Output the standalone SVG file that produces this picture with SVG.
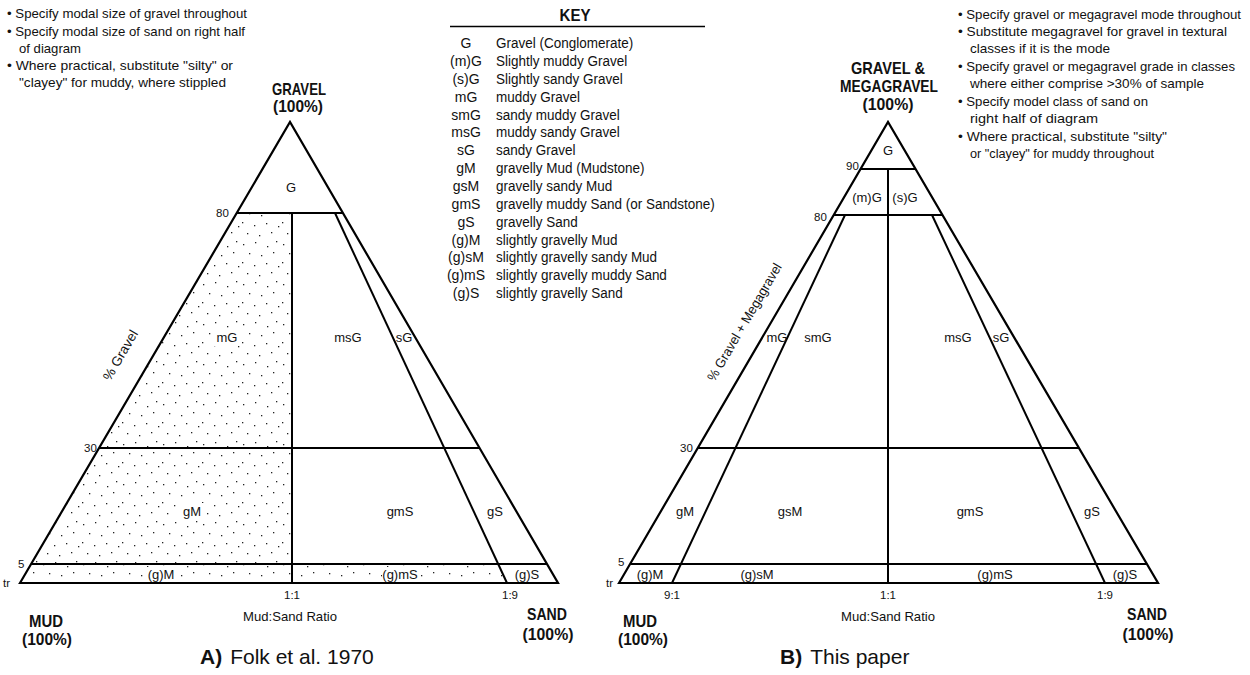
<svg xmlns="http://www.w3.org/2000/svg" width="1250" height="675" viewBox="0 0 1250 675">
<style>
text{font-family:"Liberation Sans Narrow","Liberation Sans",Arial,sans-serif;fill:#111}
.note{font-size:13.5px}
.key{font-size:14.5px}
.ab{font-size:14px;text-anchor:middle}
.lab{font-size:13px;text-anchor:middle}
.tick{font-size:11.5px}
.tm{font-size:11.5px;text-anchor:middle}
.bold{font-weight:bold;font-size:17px;text-anchor:middle}
.cap{font-family:"Liberation Sans",Arial,sans-serif;font-size:21px}
.edge{fill:none;stroke:#000;stroke-width:2.2;stroke-linejoin:miter}
.ln{fill:none;stroke:#000;stroke-width:2}
.bg{fill:#fff}
</style>
<defs>
<pattern id="dots" width="40" height="40" patternUnits="userSpaceOnUse">
<g fill="#222">
<rect x="3" y="4" width="1.3" height="1.3"/>
<rect x="15" y="2" width="1.3" height="1.3"/>
<rect x="27" y="6" width="1.3" height="1.3"/>
<rect x="36" y="1" width="1.3" height="1.3"/>
<rect x="9" y="13" width="1.3" height="1.3"/>
<rect x="21" y="15" width="1.3" height="1.3"/>
<rect x="33" y="12" width="1.3" height="1.3"/>
<rect x="2" y="22" width="1.3" height="1.3"/>
<rect x="14" y="25" width="1.3" height="1.3"/>
<rect x="26" y="23" width="1.3" height="1.3"/>
<rect x="38" y="26" width="1.3" height="1.3"/>
<rect x="7" y="33" width="1.3" height="1.3"/>
<rect x="19" y="35" width="1.3" height="1.3"/>
<rect x="31" y="32" width="1.3" height="1.3"/>
</g>
</pattern>
</defs>
<rect width="1250" height="675" fill="#fff"/>

<!-- Notes A -->
<g id="notes-a">
<text class="note" x="7" y="18" textLength="240" lengthAdjust="spacingAndGlyphs">• Specify modal size of gravel throughout</text>
<text class="note" x="7" y="36" textLength="238" lengthAdjust="spacingAndGlyphs">• Specify modal size of sand on right half</text>
<text class="note" x="19" y="53" textLength="62" lengthAdjust="spacingAndGlyphs">of diagram</text>
<text class="note" x="7" y="70" textLength="226" lengthAdjust="spacingAndGlyphs">• Where practical, substitute "silty" or</text>
<text class="note" x="19" y="87" textLength="207" lengthAdjust="spacingAndGlyphs">"clayey" for muddy, where stippled</text>
</g>

<!-- Key -->
<g id="key">
<text x="575" y="21" style="font-weight:bold;font-size:17px;text-anchor:middle" textLength="31" lengthAdjust="spacingAndGlyphs">KEY</text>
<line x1="450" y1="26.5" x2="705" y2="26.5" stroke="#000" stroke-width="1.5"/>
<g id="key-abbrev">
<text x="466" y="48" class="ab">G</text>
<text x="466" y="66" class="ab">(m)G</text>
<text x="466" y="84" class="ab">(s)G</text>
<text x="466" y="102" class="ab">mG</text>
<text x="466" y="120" class="ab">smG</text>
<text x="466" y="137" class="ab">msG</text>
<text x="466" y="155" class="ab">sG</text>
<text x="466" y="173" class="ab">gM</text>
<text x="466" y="191" class="ab">gsM</text>
<text x="466" y="209" class="ab">gmS</text>
<text x="466" y="227" class="ab">gS</text>
<text x="466" y="245" class="ab">(g)M</text>
<text x="466" y="262" class="ab">(g)sM</text>
<text x="466" y="280" class="ab">(g)mS</text>
<text x="466" y="298" class="ab">(g)S</text>
</g>
<g id="key-desc" transform="translate(496 0) scale(0.93 1)">
<text x="0" y="48" class="key">Gravel (Conglomerate)</text>
<text x="0" y="66" class="key">Slightly muddy Gravel</text>
<text x="0" y="84" class="key">Slightly sandy Gravel</text>
<text x="0" y="102" class="key">muddy Gravel</text>
<text x="0" y="120" class="key">sandy muddy Gravel</text>
<text x="0" y="137" class="key">muddy sandy Gravel</text>
<text x="0" y="155" class="key">sandy Gravel</text>
<text x="0" y="173" class="key">gravelly Mud (Mudstone)</text>
<text x="0" y="191" class="key">gravelly sandy Mud</text>
<text x="0" y="209" class="key">gravelly muddy Sand (or Sandstone)</text>
<text x="0" y="227" class="key">gravelly Sand</text>
<text x="0" y="245" class="key">slightly gravelly Mud</text>
<text x="0" y="262" class="key">slightly gravelly sandy Mud</text>
<text x="0" y="280" class="key">slightly gravelly muddy Sand</text>
<text x="0" y="298" class="key">slightly gravelly Sand</text>
</g>
</g>

<!-- Triangle A -->
<g id="triangle-a">
<polygon points="236.7,213 292,213 292,564 498.2,564 507,583 20,583" fill="url(#dots)"/>
<rect class="bg" x="213" y="329" width="29" height="17"/>
<rect class="bg" x="178" y="503" width="28" height="17"/>
<rect class="bg" x="146" y="567" width="31" height="15"/>
<rect class="bg" x="382" y="567" width="37" height="15"/>
<polygon class="edge" points="20,583 290,122 558,583"/>
<g id="connectors-a">
<line class="ln" x1="236.7" y1="213" x2="342.9" y2="213"/>
<line class="ln" x1="99" y1="448" x2="479.5" y2="448"/>
<line class="ln" x1="31.1" y1="564" x2="547" y2="564"/>
<line class="ln" x1="292" y1="213" x2="292" y2="583"/>
<line class="ln" x1="335" y1="213" x2="507" y2="583"/>
</g>
<text class="lab" x="291" y="192">G</text>
<text class="lab" x="227" y="342">mG</text>
<text class="lab" x="348" y="342">msG</text>
<text class="lab" x="404" y="342">sG</text>
<text class="lab" x="192" y="516">gM</text>
<text class="lab" x="400" y="516">gmS</text>
<text class="lab" x="495" y="516">gS</text>
<text class="lab" x="161" y="579">(g)M</text>
<text class="lab" x="400" y="579">(g)mS</text>
<text class="lab" x="527" y="579">(g)S</text>
<text class="tick" x="216" y="217">80</text>
<text class="tick" x="84" y="452">30</text>
<text class="tick" x="18" y="568">5</text>
<text class="tick" x="3" y="587">tr</text>
<text class="tm" x="292" y="599">1:1</text>
<text class="tm" x="510" y="599">1:9</text>
<text x="290" y="621" style="font-size:13px;text-anchor:middle" textLength="94" lengthAdjust="spacingAndGlyphs">Mud:Sand Ratio</text>
<text x="120" y="360" transform="rotate(-59.6 120 355)" style="font-size:13.5px;text-anchor:middle" textLength="56" lengthAdjust="spacingAndGlyphs">% Gravel</text>
<text class="bold" x="299" y="95" textLength="54" lengthAdjust="spacingAndGlyphs">GRAVEL</text>
<text class="bold" x="298" y="112" textLength="50" lengthAdjust="spacingAndGlyphs">(100%)</text>
<text class="bold" x="46" y="627" textLength="34" lengthAdjust="spacingAndGlyphs">MUD</text>
<text class="bold" x="47" y="645" textLength="50" lengthAdjust="spacingAndGlyphs">(100%)</text>
<text class="bold" x="547" y="620" textLength="40" lengthAdjust="spacingAndGlyphs">SAND</text>
<text class="bold" x="548" y="640" textLength="51" lengthAdjust="spacingAndGlyphs">(100%)</text>
<text class="cap" x="200" y="664"><tspan font-weight="bold">A)</tspan><tspan dx="8">Folk et al. 1970</tspan></text>
</g>

<!-- Notes B -->
<g id="notes-b">
<text class="note" x="958" y="19" textLength="283" lengthAdjust="spacingAndGlyphs">• Specify gravel or megagravel mode throughout</text>
<text class="note" x="958" y="36" textLength="269" lengthAdjust="spacingAndGlyphs">• Substitute megagravel for gravel in textural</text>
<text class="note" x="970" y="53" textLength="140" lengthAdjust="spacingAndGlyphs">classes if it is the mode</text>
<text class="note" x="958" y="71" textLength="277" lengthAdjust="spacingAndGlyphs">• Specify gravel or megagravel grade in classes</text>
<text class="note" x="970" y="88" textLength="234" lengthAdjust="spacingAndGlyphs">where either comprise &gt;30% of sample</text>
<text class="note" x="958" y="106" textLength="190" lengthAdjust="spacingAndGlyphs">• Specify model class of sand on</text>
<text class="note" x="970" y="123" textLength="128" lengthAdjust="spacingAndGlyphs">right half of diagram</text>
<text class="note" x="958" y="141" textLength="209" lengthAdjust="spacingAndGlyphs">• Where practical, substitute "silty"</text>
<text class="note" x="970" y="158" textLength="184" lengthAdjust="spacingAndGlyphs">or "clayey" for muddy throughout</text>
</g>

<!-- Triangle B -->
<g id="triangle-b">
<polygon class="edge" points="619,583 888,122 1158,583"/>
<g id="connectors-b">
<line class="ln" x1="860.6" y1="169" x2="916" y2="169"/>
<line class="ln" x1="888" y1="169" x2="888" y2="215"/>
<line class="ln" x1="833.7" y1="215" x2="943" y2="215"/>
<line class="ln" x1="888" y1="215" x2="888" y2="583"/>
<line class="ln" x1="697.8" y1="448" x2="1079" y2="448"/>
<line class="ln" x1="630.7" y1="564" x2="1146.3" y2="564"/>
<line class="ln" x1="845" y1="215" x2="672" y2="583"/>
<line class="ln" x1="932" y1="215" x2="1105" y2="583"/>
</g>
<text class="lab" x="888" y="155">G</text>
<text class="lab" x="867" y="202">(m)G</text>
<text class="lab" x="905" y="202">(s)G</text>
<text class="lab" x="777" y="342">mG</text>
<text class="lab" x="818" y="342">smG</text>
<text class="lab" x="958" y="342">msG</text>
<text class="lab" x="1001" y="342">sG</text>
<text class="lab" x="685" y="516">gM</text>
<text class="lab" x="790" y="516">gsM</text>
<text class="lab" x="970" y="516">gmS</text>
<text class="lab" x="1092" y="516">gS</text>
<text class="lab" x="650" y="579">(g)M</text>
<text class="lab" x="757" y="579">(g)sM</text>
<text class="lab" x="995" y="579">(g)mS</text>
<text class="lab" x="1125" y="579">(g)S</text>
<text class="tick" x="846" y="170">90</text>
<text class="tick" x="814" y="221">80</text>
<text class="tick" x="680" y="452">30</text>
<text class="tick" x="618" y="566">5</text>
<text class="tick" x="606" y="587">tr</text>
<text class="tm" x="672" y="599">9:1</text>
<text class="tm" x="888" y="599">1:1</text>
<text class="tm" x="1105" y="599">1:9</text>
<text x="888" y="621" style="font-size:13px;text-anchor:middle" textLength="94" lengthAdjust="spacingAndGlyphs">Mud:Sand Ratio</text>
<text x="744" y="327" transform="rotate(-59.6 744 322)" style="font-size:13.5px;text-anchor:middle" textLength="134" lengthAdjust="spacingAndGlyphs">% Gravel + Megagravel</text>
<text class="bold" x="888" y="74" textLength="74" lengthAdjust="spacingAndGlyphs">GRAVEL &amp;</text>
<text class="bold" x="889" y="92" textLength="98" lengthAdjust="spacingAndGlyphs">MEGAGRAVEL</text>
<text class="bold" x="888" y="110" textLength="51" lengthAdjust="spacingAndGlyphs">(100%)</text>
<text class="bold" x="640" y="627" textLength="34" lengthAdjust="spacingAndGlyphs">MUD</text>
<text class="bold" x="643" y="645" textLength="50" lengthAdjust="spacingAndGlyphs">(100%)</text>
<text class="bold" x="1147" y="620" textLength="40" lengthAdjust="spacingAndGlyphs">SAND</text>
<text class="bold" x="1148" y="640" textLength="51" lengthAdjust="spacingAndGlyphs">(100%)</text>
<text class="cap" x="780" y="664"><tspan font-weight="bold">B)</tspan><tspan dx="8">This paper</tspan></text>
</g>
</svg>
